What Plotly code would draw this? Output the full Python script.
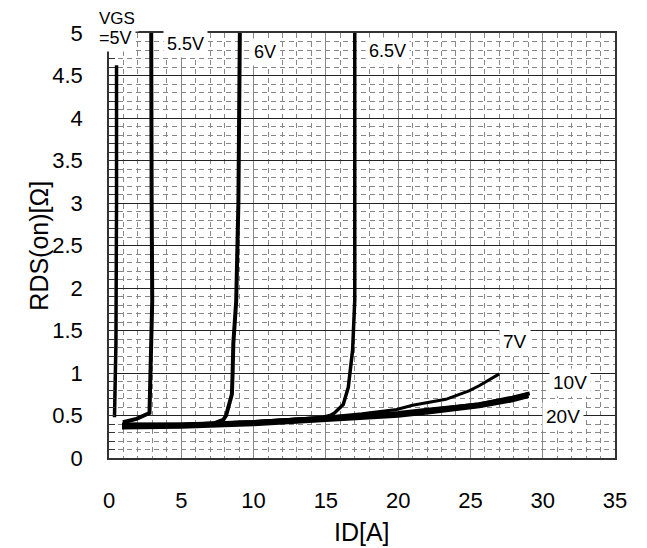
import plotly.graph_objects as go

# ---- data (ID [A], RDS(on) [Ohm]) ----
vgs5_id = [0.38, 0.42, 0.48, 0.52, 0.52]
vgs5_r = [0.48, 1.00, 1.35, 3.00, 4.62]

vgs55_id = [0.96, 1.9, 2.80, 2.87, 2.99, 2.95, 2.92]
vgs55_r = [0.42, 0.46, 0.53, 0.91, 1.85, 3.00, 5.00]

vgs6_id = [7.3, 7.9, 8.1, 8.5, 8.55, 8.6, 8.8, 8.95, 9.05]
vgs6_r = [0.41, 0.45, 0.50, 0.75, 1.00, 1.35, 1.85, 3.00, 5.00]

vgs65_id = [14.8, 15.3, 15.6, 16.2, 16.55, 16.85, 17.0, 17.0]
vgs65_r = [0.48, 0.50, 0.53, 0.63, 0.83, 1.27, 1.86, 5.00]

vgs7_id = [0.9, 5.0, 10.0, 15.0, 17.5, 19.9, 21.0, 23.3, 24.9, 25.6, 27.0]
vgs7_r = [0.40, 0.40, 0.43, 0.48, 0.52, 0.57, 0.62, 0.69, 0.79, 0.85, 0.99]

vgs10_id = [0.9, 5.0, 10.0, 15.0, 20.0, 22.2, 25.6, 27.9, 29.1]
vgs10_r = [0.39, 0.39, 0.42, 0.47, 0.53, 0.57, 0.63, 0.71, 0.76]

vgs20_id = [0.9, 5.0, 10.0, 15.0, 20.0, 22.2, 25.6, 27.9, 29.0]
vgs20_r = [0.37, 0.38, 0.41, 0.46, 0.51, 0.55, 0.62, 0.69, 0.74]

x_ticks = [0, 5, 10, 15, 20, 25, 30, 35]
y_ticks = [0, 0.5, 1, 1.5, 2, 2.5, 3, 3.5, 4, 4.5, 5]

curves = [
    (vgs5_id, vgs5_r, 3.5),
    (vgs55_id, vgs55_r, 4),
    (vgs6_id, vgs6_r, 4),
    (vgs65_id, vgs65_r, 3.5),
    (vgs7_id, vgs7_r, 3),
    (vgs10_id, vgs10_r, 4),
    (vgs20_id, vgs20_r, 6),
]

fig = go.Figure()
for xs, ys, w in curves:
    fig.add_trace(go.Scatter(x=xs, y=ys, mode="lines",
                             line=dict(color="black", width=w),
                             showlegend=False, hoverinfo="skip"))

font = "Liberation Sans, Arial, sans-serif"

labels = [
    ("VGS", 0.55, 1.033, 17, "paper"),
    ("=5V", 0.45, 0.988, 18, "paper"),
    ("5.5V", 5.30, 4.87, 18, "y"),
    ("6V", 10.77, 4.78, 18, "y"),
    ("6.5V", 19.29, 4.79, 18, "y"),
    ("7V", 28.1, 1.37, 19, "y"),
    ("10V", 31.9, 0.89, 19, "y"),
    ("20V", 31.4, 0.49, 19, "y"),
]
for txt, xv, yv, fs, yr in labels:
    fig.add_annotation(x=xv, y=yv, xref="x", yref=yr, text=txt, showarrow=False,
                       xanchor="center", yanchor="middle",
                       font=dict(family=font, size=fs, color="black"),
                       bgcolor="white", borderpad=3)

fig.add_annotation(x=0.5, y=-0.173, xref="paper", yref="paper", text="ID[A]",
                   showarrow=False, xanchor="center", yanchor="middle",
                   font=dict(family=font, size=25, color="black"))
fig.add_annotation(x=-0.14, y=0.5, xref="paper", yref="paper", text="RDS(on)[Ω]",
                   textangle=-90, showarrow=False, xanchor="center", yanchor="middle",
                   font=dict(family=font, size=25, color="black"))

fig.update_layout(
    width=639, height=540,
    margin=dict(l=101, r=32, t=25, b=90),
    paper_bgcolor="white", plot_bgcolor="white",
    font=dict(family=font, size=22, color="black"),
    xaxis=dict(range=[0, 35], tickvals=x_ticks, ticks="", showline=True,
               linecolor="#333", linewidth=1.5, mirror=True,
               showgrid=True, gridcolor="#888", gridwidth=1, zeroline=False,
               ticklabelstandoff=22,
               minor=dict(dtick=1, showgrid=True, gridcolor="#888",
                          griddash="5px,4px", gridwidth=1)),
    yaxis=dict(range=[0, 5], tickvals=y_ticks, ticks="", showline=True,
               linecolor="#333", linewidth=1.5, mirror=True,
               showgrid=True, gridcolor="#222", gridwidth=1, zeroline=False,
               ticklabelstandoff=20,
               minor=dict(dtick=0.1, showgrid=True, gridcolor="#888",
                          griddash="5px,4px", gridwidth=1,
                          ticks="inside", ticklen=6, tickcolor="#333")),
)

fig.write_html("out.html")
